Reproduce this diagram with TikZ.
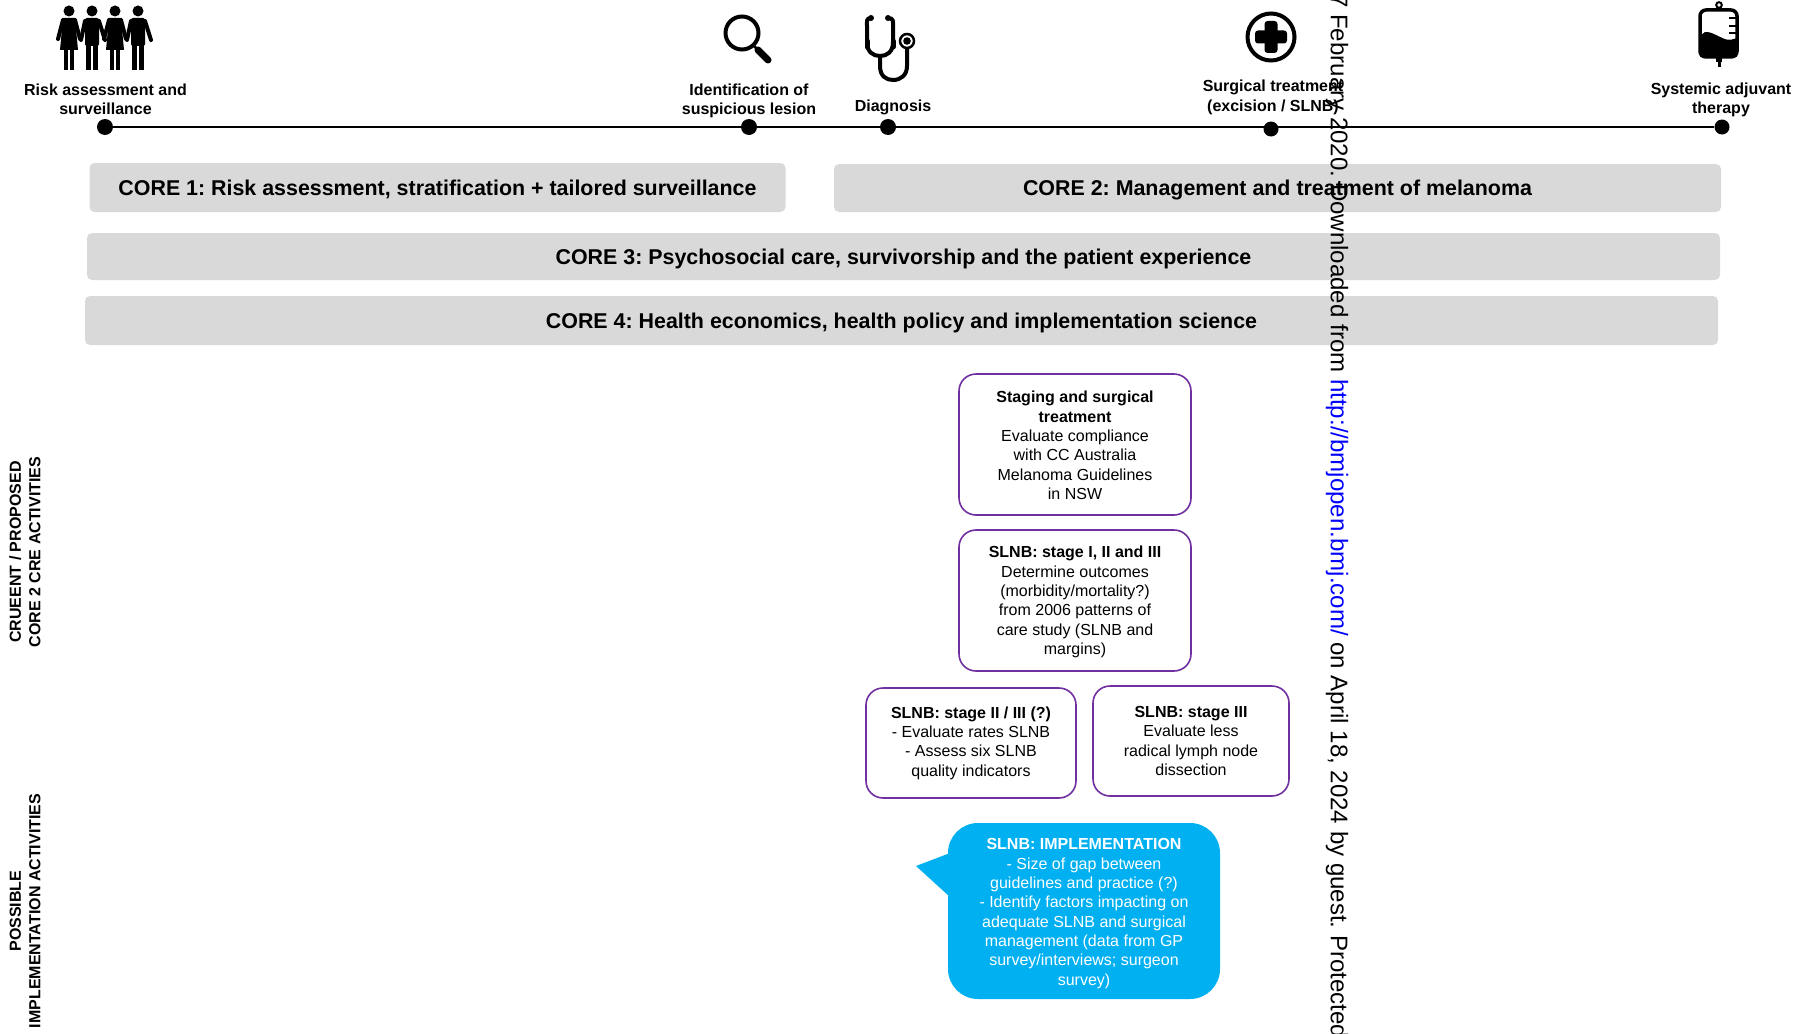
\documentclass[tikz,border=0pt]{standalone}
\usepackage{fontspec}
\setmainfont{Liberation Sans}
\frenchspacing
\definecolor{coregrey}{HTML}{D9D9D9}
\definecolor{boxpurple}{HTML}{7030A0}
\definecolor{callblue}{HTML}{00B0F0}
\newcommand{\bodyfont}{\fontsize{16}{19.3}\selectfont}
\newcommand{\labelfont}{\fontsize{16}{19.3}\selectfont\bfseries}
\newcommand{\corefont}{\fontsize{21.4}{25}\selectfont\bfseries}
\newcommand{\sidefont}{\fontsize{16}{19.5}\selectfont\bfseries}
\newcommand{\lift}[1]{\rule{0pt}{#1pt}}
\newcommand{\womanfig}[1]{%
  \fill (#1,11) circle (5.5);
  \fill (#1-6,18) -- (#1+6,18) -- (#1+9,50) -- (#1-9,50) -- cycle;
  \fill (#1-5,48) rectangle (#1-1,70);
  \fill (#1+1,48) rectangle (#1+5,70);
  \draw[armline] (#1-6,20) -- (#1-11,39);
  \draw[armline] (#1+6,20) -- (#1+11,39);
}
\newcommand{\manfig}[1]{%
  \fill[rounded corners=2] (#1-7,18) rectangle (#1+7,46);
  \fill (#1-6,44) rectangle (#1-1,70);
  \fill (#1+1,44) rectangle (#1+6,70);
  \fill (#1,11) circle (5.5);
  \draw[armline] (#1-7,21) -- (#1-11,40);
  \draw[armline] (#1+7,21) -- (#1+13,40);
}
\tikzset{
  x=1pt,y=-1pt,
  armline/.style={line width=4pt,line cap=round},
  dot/.style={circle,fill=black,inner sep=0pt,minimum size=16pt},
  tlabel/.style={align=center,inner sep=0pt,font=\labelfont},
  corebar/.style={fill=coregrey,rounded corners=5pt,inner sep=0pt,font=\corefont,text=black},
  actbox/.style={draw=boxpurple,line width=1.6pt,fill=white,rounded corners=17pt,inner sep=0pt,align=center,font=\bodyfont},
  callbox/.style={fill=callblue,rounded corners=30pt,inner sep=0pt,align=center,font=\bodyfont,text=white},
  sidelabel/.style={rotate=90,align=center,inner sep=0pt,font=\sidefont},
  timeline/.style={line width=2pt},
  iconline/.style={line width=4pt},
}
\begin{document}
\begin{tikzpicture}
\useasboundingbox (0,0) rectangle (1798,1033);
% timeline
\node[dot] (d1) at (105,127) {};
\node[dot] (d2) at (749,127) {};
\node[dot] (d3) at (888,127) {};
\node[dot,minimum size=15pt] (d4) at (1271,129) {};
\node[dot,minimum size=15pt] (d5) at (1722,127) {};
\draw[timeline] (d1) -- (d5);
% timeline labels
\node[tlabel] (l1) at (105.5,99) {Risk assessment and\\surveillance};
\node[tlabel] (l2) at (749,101) {Identification of\\suspicious lesion};
\node[tlabel] (l3) at (893,107) {Diagnosis};
\node[tlabel] (l4) at (1273,97.3) {Surgical treatment\\(excision / SLNB)};
\node[tlabel] (l5) at (1721,100) {Systemic adjuvant\\therapy};
% people icon
\womanfig{69}
\manfig{92}
\womanfig{115}
\manfig{138}
% magnifier icon
\draw[iconline] (742,33) circle (16.5);
\draw[line width=2.5pt] (753,45) -- (758,50);
\draw[line width=7pt,line cap=round] (758,50) -- (768,60);
% stethoscope icon
\fill (871,18) circle (3);
\fill (888,18) circle (3);
\draw[iconline] (871,18) .. controls (866,18) and (867,22) .. (867,26) -- (867,42) .. controls (867,52) and (873,56) .. (880,56) .. controls (887,56) and (893,52) .. (893,42) -- (893,26) .. controls (893,22) and (894,18) .. (888,18);
\draw[line width=5pt,line cap=round] (867,41) -- (867,47);
\draw[line width=5pt,line cap=round] (893,41) -- (893,47);
\draw[iconline] (880,56) -- (880,66) .. controls (880,76) and (886,80) .. (893,80) .. controls (901,80) and (907,75) .. (907,66) -- (907,49);
\draw[line width=2.5pt] (907,41) circle (7);
\fill (907,41) circle (3.8);
% plus icon
\draw[iconline] (1271,37) circle (23.5);
\fill[rounded corners=3] (1264.5,21) rectangle (1277.5,53);
\fill[rounded corners=3] (1255,30.5) rectangle (1287,43.5);
% IV bag icon
\draw[line width=2pt] (1719,5) circle (2.8);
\draw[line width=3.5pt,rounded corners=6pt] (1700,10) rectangle (1737,57);
\fill (1714,8) rectangle (1724,11);
\fill[rounded corners=5pt] (1700,34) .. controls (1708,31) and (1714,34) .. (1720,37) .. controls (1727,40) and (1732,40) .. (1737,36) -- (1738.5,58) -- (1698.5,58) -- cycle;
\fill (1716,56) rectangle (1722,62);
\fill (1717.5,60) rectangle (1720.5,67);
\draw[line width=2pt] (1729,18) -- (1737,18) (1729,26) -- (1737,26) (1729,33) -- (1737,33);
% core bars
\node[corebar,minimum width=696pt,minimum height=49pt] (c1) at (437.5,187.5) {\lift{20}CORE 1: Risk assessment, stratification + tailored surveillance};
\node[corebar,minimum width=887pt,minimum height=48pt] (c2) at (1277.5,188) {\lift{20}CORE 2: Management and treatment of melanoma};
\node[corebar,minimum width=1633pt,minimum height=47pt] (c3) at (903.5,256.5) {\lift{20}CORE 3: Psychosocial care, survivorship and the patient experience};
\node[corebar,minimum width=1633pt,minimum height=49pt] (c4) at (901.5,320.5) {\lift{20}CORE 4: Health economics, health policy and implementation science};
% activity boxes
\node[actbox,minimum width=232pt,minimum height=141pt] (b1) at (1075,444.5) {\lift{13.6}\textbf{Staging and surgical}\\\textbf{treatment}\\Evaluate compliance\\with CC Australia\\Melanoma Guidelines\\in NSW};
\node[actbox,minimum width=232pt,minimum height=141pt] (b2) at (1075,600.5) {\lift{14.6}\textbf{SLNB: stage I, II and III}\\Determine outcomes\\(morbidity/mortality?)\\from 2006 patterns of\\care study (SLNB and\\margins)};
\node[actbox,minimum width=210pt,minimum height=110pt] (b3) at (971,743) {\textbf{SLNB: stage II / III (?)}\\- Evaluate rates SLNB\\- Assess six SLNB\\quality indicators};
\node[actbox,minimum width=196pt,minimum height=110pt] (b4) at (1191,741) {\textbf{SLNB: stage III}\\Evaluate less\\radical lymph node\\dissection};
% callout
\fill[callblue] (950,853) -- (916,866) -- (950,897) -- cycle;
\node[callbox,minimum width=272pt,minimum height=176pt] (b5) at (1084,911) {\lift{16.2}\textbf{SLNB: IMPLEMENTATION}\\- Size of gap between\\guidelines and practice (?)\\- Identify factors impacting on\\adequate SLNB and surgical\\management (data from GP\\survey/interviews; surgeon\\survey)};
% side labels
\node[sidelabel] (s1) at (25,552) {CRUEENT / PROPOSED\\CORE 2 CRE ACTIVITIES};
\node[sidelabel] (s2) at (25,911) {POSSIBLE\\IMPLEMENTATION ACTIVITIES};
% margin stamp
\node[rotate=-90,anchor=west,inner sep=0pt,font=\fontsize{24.05}{26}\selectfont] (w) at (1337,-6) {7 February 2020. Downloaded from \textcolor{blue}{http://bmjopen.bmj.com/} on April 18, 2024 by guest. Protected};
\end{tikzpicture}
\end{document}
